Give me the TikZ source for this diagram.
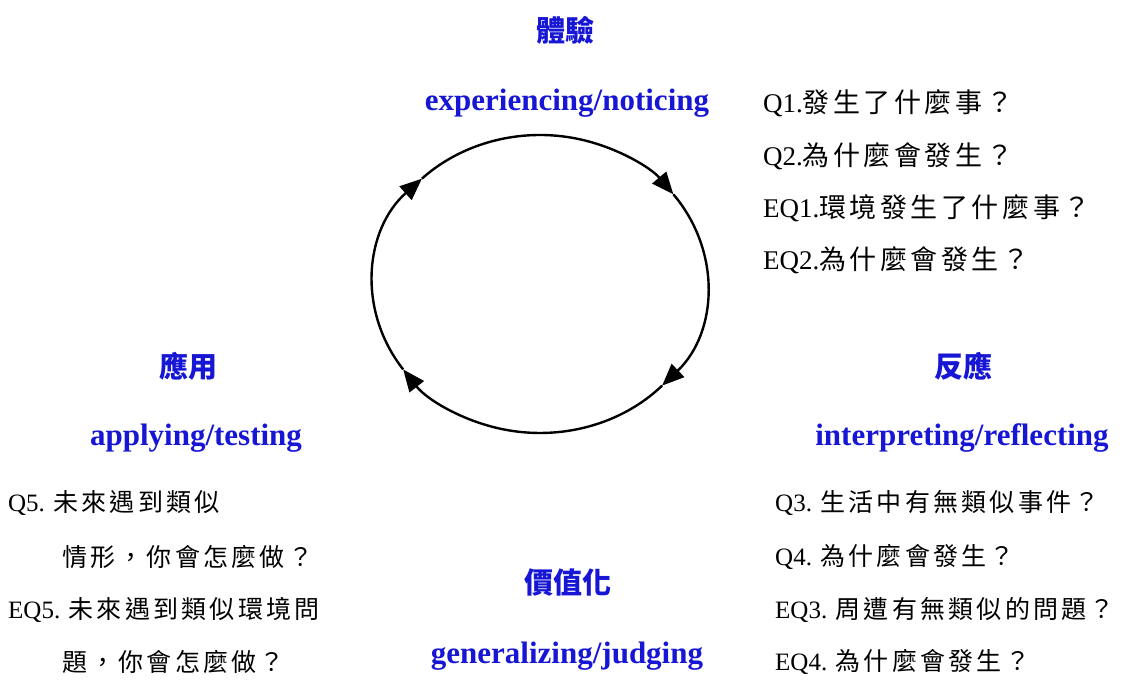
\documentclass[tikz,border=0pt]{standalone}
\usepackage{fontspec}
\setmainfont{Liberation Serif}
\newfontfamily\cjk[LetterSpace=13]{Noto Sans CJK TC}
\newfontfamily\cjkt{Noto Sans CJK TC}
\usetikzlibrary{arrows.meta,positioning}
\definecolor{ttlblue}{RGB}{22,22,212}

\begin{document}
\begin{tikzpicture}[x=1pt,y=1pt,
    ttl/.style={text=ttlblue,inner sep=0pt,font=\fontsize{29}{31}\selectfont\cjkt\bfseries},
    eng/.style={text=ttlblue,inner sep=0pt,font=\fontsize{31}{33}\selectfont\bfseries},
    qline/.style={anchor=west,inner sep=0pt,font=\fontsize{27}{29}\selectfont},
    qlow/.style={qline,font=\fontsize{25}{28}\selectfont},
    cyc/.style={line width=2.4pt,-{Triangle[length=22pt,width=18pt]}}]
        \useasboundingbox (0,0) rectangle (1122,695);
        % the cycle
        \coordinate (c) at (540,411);
        \foreach \a/\b in {215/135,135/37,37/-43,-43/-145} {
          \draw[cyc] (c) ++(\a:167 and 149) arc[start angle=\a,end angle=\b,x radius=167,y radius=149];
        }
        % stage titles
        \node[ttl] (exp-zh) at (565,665) {體驗};
        \node[eng] (exp-en) at (567,592) {experiencing/noticing};
        \node[ttl] (ref-zh) at (963,329) {反應};
        \node[eng] (ref-en) at (962,257) {interpreting/reflecting};
        \node[ttl] (app-zh) at (188,329) {應用};
        \node[eng] (app-en) at (196,257) {applying/testing};
        \node[ttl] (gen-zh) at (568,112) {價值化};
        \node[eng] (gen-en) at (567,39) {generalizing/judging};
        % questions
        \node[qline] (q1) at (763,592) {Q1.{\cjk 發生了什麼事？}};
        \node[qline] (q2) at (763,539) {Q2.{\cjk 為什麼會發生？}};
        \node[qline] (eq1) at (763,487) {EQ1.{\cjk 環境發生了什麼事？}};
        \node[qline] (eq2) at (763,435) {EQ2.{\cjk 為什麼會發生？}};
        \node[qlow] (q3) at (775,192) {Q3. {\cjk 生活中有無類似事件？}};
        \node[qlow] (q4) at (775,138) {Q4. {\cjk 為什麼會發生？}};
        \node[qlow] (eq3) at (775,85) {EQ3. {\cjk 周遭有無類似的問題？}};
        \node[qlow] (eq4) at (775,33) {EQ4. {\cjk 為什麼會發生？}};
        \node[qlow] (q5) at (8,192) {Q5. {\cjk 未來遇到類似}};
        \node[qlow] (q5b) at (62,138) {\cjk 情形，你會怎麼做？};
        \node[qlow] (eq5) at (8,85) {EQ5. {\cjk 未來遇到類似環境問}};
        \node[qlow] (eq5b) at (62,33) {\cjk 題，你會怎麼做？};
\end{tikzpicture}
\end{document}
